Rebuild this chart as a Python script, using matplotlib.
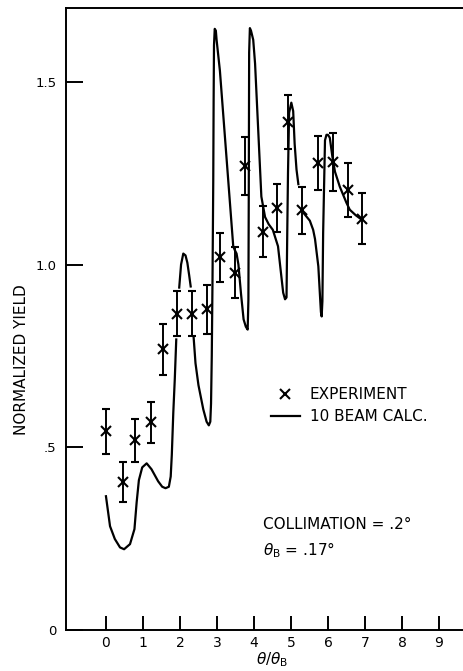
import numpy as np
import matplotlib

matplotlib.use("Agg")
import matplotlib.pyplot as plt
from matplotlib.lines import Line2D

# experiment: theta/theta_B, normalized yield, error half-height
exp_x = [0.0, 0.45, 0.78, 1.23, 1.53, 1.92, 2.33, 2.72, 3.08, 3.49,
         3.77, 4.25, 4.61, 4.93, 5.31, 5.72, 6.14, 6.53, 6.91]
exp_y = [0.544, 0.404, 0.519, 0.568, 0.768, 0.866, 0.866, 0.877, 1.02, 0.978,
         1.27, 1.09, 1.155, 1.39, 1.148, 1.278, 1.28, 1.205, 1.125]
exp_err = [0.062, 0.055, 0.059, 0.056, 0.069, 0.062, 0.061, 0.067, 0.067, 0.07,
           0.08, 0.07, 0.066, 0.073, 0.065, 0.075, 0.079, 0.074, 0.07]

# 10 beam calculation, traced; nan marks the breaks in the drawn curve
nan = np.nan
calc_x = [0.0, 0.11, 0.24, 0.38, 0.49, 0.65, 0.77, 0.83, 0.89, 0.98, 1.10, 1.23,
          1.41, 1.52, 1.61, 1.70, 1.75, 1.78, 1.82, 1.86, 1.90, nan,
          1.98, 2.03, 2.09, 2.15, 2.20, 2.25, 2.29, nan,
          2.37, 2.42, 2.50, 2.63, 2.72, 2.78, 2.82, 2.84, 2.86, 2.88, 2.90, 2.91,
          2.92, 2.94, 2.97, 2.99, 3.08, 3.44, 3.48, 3.53, 3.58, 3.65, 3.72, 3.78,
          3.83, 3.85, 3.86, 3.87, 3.89, 3.92, 3.98, 4.03, 4.20, 4.30, 4.40, 4.51,
          4.65, 4.74, 4.79, 4.84, 4.88, 4.90, 4.92, 4.95, 5.01, 5.06, 5.10, 5.15,
          5.20, nan,
          5.35, 5.51, 5.60, 5.65, 5.74, 5.78, 5.81, 5.83, 5.85, 5.87, 5.92, 5.96,
          6.00, 6.05, 6.12, 6.19, 6.32, 6.50, 6.59, 6.75, 6.91]
calc_y = [0.366, 0.284, 0.249, 0.226, 0.221, 0.235, 0.276, 0.35, 0.41, 0.445, 0.456, 0.44,
          0.407, 0.392, 0.388, 0.392, 0.42, 0.48, 0.595, 0.686, 0.795, nan,
          0.937, 1.00, 1.03, 1.025, 1.005, 0.97, 0.94, nan,
          0.80, 0.73, 0.67, 0.604, 0.57, 0.56, 0.57, 0.62, 0.75, 0.96, 1.23, 1.45,
          1.60, 1.645, 1.64, 1.615, 1.53, 1.05, 1.04, 1.03, 1.00, 0.92, 0.85, 0.83,
          0.822, 0.904, 1.2, 1.58, 1.647, 1.64, 1.615, 1.55, 1.186, 1.13, 1.11, 1.095,
          1.05, 0.968, 0.923, 0.905, 0.91, 1.087, 1.25, 1.415, 1.443, 1.42, 1.33, 1.26,
          1.22, nan,
          1.14, 1.12, 1.095, 1.07, 0.995, 0.923, 0.87, 0.858, 0.90, 1.087, 1.34, 1.355,
          1.355, 1.347, 1.295, 1.254, 1.213, 1.169, 1.15, 1.135, 1.123]

x_ticks = list(range(10))
y_ticks = [0, 0.5, 1.0, 1.5]
y_ticklabels = ["0", ".5", "1.0", "1.5"]

plt.rcParams["font.family"] = ["DejaVu Sans"]

fig = plt.figure(figsize=(4.63, 6.71), dpi=100)
ax = fig.add_axes([66 / 463, 41 / 671, 397 / 463, 622 / 671])

ax.plot(calc_x, calc_y, color="k", lw=1.6)
ax.errorbar(exp_x, exp_y, yerr=exp_err, fmt="x", color="k", ms=6.5, mew=1.5,
            elinewidth=1.4, capsize=3.2, capthick=1.4)

ax.set_xlim(-1.08, 9.65)
ax.set_ylim(0, 1.702)
ax.set_xticks(x_ticks)
ax.set_yticks(y_ticks)
ax.set_yticklabels(y_ticklabels)
ax.tick_params(axis="x", direction="in", length=10, width=1.4, pad=4, labelsize=10)
ax.tick_params(axis="y", direction="in", length=12, width=1.4, pad=7, labelsize=9.5)
ax.spines["right"].set_visible(False)
for s in ("left", "top", "bottom"):
    ax.spines[s].set_linewidth(1.4)

ax.set_ylabel("NORMALIZED YIELD", fontsize=11)
ax.yaxis.set_label_coords(-0.093, 0.434)
ax.set_xlabel(r"$\theta/\theta_{\rm B}$", fontsize=11)
ax.xaxis.set_label_coords(0.519, -0.032)

handles = [Line2D([], [], ls="none", marker="x", color="k", ms=6.5, mew=1.5),
           Line2D([], [], color="k", lw=1.6)]
ax.legend(handles, ["EXPERIMENT", "10 BEAM CALC."], loc="upper left",
          bbox_to_anchor=(0.516, 0.39), frameon=False, fontsize=11,
          handlelength=1.9, handletextpad=0.65, labelspacing=0.45,
          borderpad=0, borderaxespad=0)

ax.text(0.496, 0.170, "COLLIMATION = .2°", transform=ax.transAxes,
        fontsize=11, va="center", ha="left")
ax.text(0.496, 0.129, r"$\theta_{\rm B}$ = .17°", transform=ax.transAxes,
        fontsize=11, va="center", ha="left")

fig.savefig("out.png", dpi=100)
